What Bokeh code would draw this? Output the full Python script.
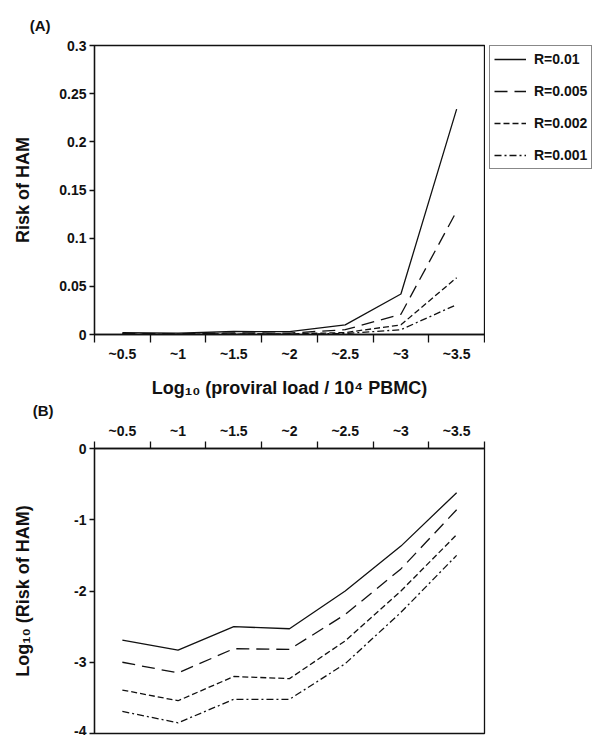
from bokeh.plotting import figure
from bokeh.models import Range1d, FixedTicker, NumeralTickFormatter, Legend, LegendItem
from bokeh.layouts import column, row
from bokeh.embed import file_html
from bokeh.resources import INLINE

# ---- data ----
categories = ["~0.5", "~1", "~1.5", "~2", "~2.5", "~3", "~3.5"]
series_labels = ["R=0.01", "R=0.005", "R=0.002", "R=0.001"]

# Panel A: risk of HAM
risk_r010 = [0.0020, 0.0015, 0.0031, 0.0030, 0.0100, 0.0420, 0.2340]
risk_r005 = [0.0010, 0.0007, 0.0016, 0.0015, 0.0050, 0.0210, 0.1280]
risk_r002 = [0.0004, 0.0003, 0.0006, 0.0006, 0.0020, 0.0100, 0.0590]
risk_r001 = [0.0002, 0.00014, 0.0003, 0.0003, 0.0010, 0.0050, 0.0310]

# Panel B: log10 risk of HAM
log_r010 = [-2.69, -2.83, -2.50, -2.53, -2.00, -1.37, -0.62]
log_r005 = [-3.00, -3.15, -2.81, -2.82, -2.33, -1.69, -0.86]
log_r002 = [-3.39, -3.54, -3.20, -3.23, -2.70, -2.00, -1.21]
log_r001 = [-3.69, -3.85, -3.52, -3.52, -3.02, -2.30, -1.50]

yticks_a = [0, 0.05, 0.1, 0.15, 0.2, 0.25, 0.3]
yticks_b = [-4, -3, -2, -1, 0]
ylabels_b = ["-4", "-3", "-2", "-1", "0"]

# ---- styling ----
FONT = "Liberation Sans"
INK = "#111111"
dashes = ["solid", "13 7", "6 3", "7 3 2 3"]
xpos = [i + 0.5 for i in range(len(categories))]
bounds = list(range(len(categories) + 1))


def style_common(p):
    p.grid.visible = False
    p.outline_line_color = INK
    p.outline_line_width = 1.3
    p.outline_line_alpha = 1.0
    p.background_fill_color = "white"
    p.border_fill_color = "white"
    for ax in p.axis:
        ax.axis_line_color = INK
        ax.axis_line_width = 1.3
        ax.major_label_text_font = FONT
        ax.major_label_text_font_style = "bold"
        ax.major_label_text_font_size = "14px"
        ax.major_label_text_color = INK
        ax.axis_label_text_font = FONT
        ax.axis_label_text_font_style = "bold"
        ax.axis_label_text_font_size = "18px"
        ax.axis_label_text_color = INK


def style_xaxis(ax, tick_len):
    ax.ticker = FixedTicker(ticks=xpos, minor_ticks=bounds)
    ax.major_label_overrides = {x: c for x, c in zip(xpos, categories)}
    ax.major_tick_line_color = None
    ax.major_tick_out = tick_len
    ax.major_tick_in = 0
    ax.minor_tick_line_color = INK
    ax.minor_tick_line_width = 1.3
    ax.minor_tick_out = tick_len
    ax.minor_tick_in = 0


def style_yaxis(ax, ticks):
    ax.ticker = FixedTicker(ticks=ticks)
    ax.major_tick_line_color = INK
    ax.major_tick_line_width = 1.3
    ax.major_tick_out = 5
    ax.major_tick_in = 0
    ax.minor_tick_line_color = None
    ax.major_label_standoff = 3


def label_strip(text, height, tick_y, standoff):
    # thin canvas whose only content is the panel letter, drawn as a tick label left of the frame
    f = figure(width=602, height=height, x_range=Range1d(0, 1), y_range=Range1d(0, height),
               x_axis_location=None, output_backend="svg", toolbar_location=None,
               min_border_left=94, min_border_right=118, min_border_top=0, min_border_bottom=0)
    f.grid.visible = False
    f.outline_line_color = None
    f.background_fill_color = "white"
    f.border_fill_color = "white"
    ax = f.yaxis[0]
    ax.ticker = FixedTicker(ticks=[tick_y])
    ax.major_label_overrides = {tick_y: text}
    ax.axis_line_color = None
    ax.major_tick_line_color = None
    ax.minor_tick_line_color = None
    ax.major_tick_out = 0
    ax.major_tick_in = 0
    ax.major_label_standoff = standoff
    ax.major_label_text_font = FONT
    ax.major_label_text_font_style = "bold"
    ax.major_label_text_font_size = "15px"
    ax.major_label_text_color = INK
    return f


# ---- strip with "(A)" ----
strip_a = label_strip("(A)", 37, 12, 44)

# ---- Panel A ----
p1 = figure(width=485, height=363, x_range=Range1d(0, 7), y_range=Range1d(0, 0.3),
            output_backend="svg", toolbar_location=None,
            min_border_left=94, min_border_right=1, min_border_top=8, min_border_bottom=65)
style_common(p1)
style_xaxis(p1.xaxis[0], 8)
p1.xaxis.major_label_standoff = 3
p1.xaxis.axis_label = "Log\u2081\u2080 (proviral load / 10\u2074 PBMC)"
p1.xaxis.axis_label_standoff = 13
style_yaxis(p1.yaxis[0], yticks_a)
p1.yaxis.formatter = NumeralTickFormatter(format="0.[00]")
p1.yaxis.axis_label = "Risk of HAM"
p1.yaxis.axis_label_standoff = 23

for vals, dash in zip([risk_r010, risk_r005, risk_r002, risk_r001], dashes):
    p1.line(xpos, vals, line_color=INK, line_width=1.3, line_dash=dash)

# ---- legend beside panel A (its own canvas; the series lie outside its visible range) ----
pleg = figure(width=117, height=363, x_range=Range1d(0, 7), y_range=Range1d(10, 11),
              x_axis_location=None, y_axis_location=None, output_backend="svg",
              toolbar_location=None, min_border_left=4, min_border_right=0,
              min_border_top=8, min_border_bottom=65)
pleg.grid.visible = False
pleg.outline_line_color = None
pleg.background_fill_color = "white"
pleg.border_fill_color = "white"
leg_renderers = []
for vals, dash in zip([risk_r010, risk_r005, risk_r002, risk_r001], dashes):
    leg_renderers.append(pleg.line(xpos, vals, line_color=INK, line_width=1.3, line_dash=dash))
legend = Legend(items=[LegendItem(label=l, renderers=[r]) for l, r in zip(series_labels, leg_renderers)],
                location="top_left", margin=0, padding=4, spacing=14,
                label_height=18, glyph_height=18, glyph_width=32, label_standoff=8,
                label_text_font=FONT, label_text_font_style="bold", label_text_font_size="14px",
                label_text_color=INK, border_line_color=INK, border_line_width=1.3,
                background_fill_color="white", background_fill_alpha=1.0)
pleg.add_layout(legend)

# ---- strip with "(B)" ----
strip_b = label_strip("(B)", 19, 9, 41)

# ---- Panel B ----
p2 = figure(width=602, height=316, x_range=Range1d(0, 7), y_range=Range1d(-4, 0),
            x_axis_location="above", output_backend="svg", toolbar_location=None,
            min_border_left=94, min_border_right=118, min_border_top=27, min_border_bottom=2)
style_common(p2)
style_xaxis(p2.xaxis[0], 7)
p2.xaxis.major_label_standoff = 3
style_yaxis(p2.yaxis[0], yticks_b)
p2.yaxis.major_label_overrides = {t: s for t, s in zip(yticks_b, ylabels_b)}
p2.yaxis.axis_label = "Log\u2081\u2080 (Risk of HAM)"
p2.yaxis.axis_label_standoff = 38

for vals, dash in zip([log_r010, log_r005, log_r002, log_r001], dashes):
    p2.line(xpos, vals, line_color=INK, line_width=1.3, line_dash=dash)

layout = column(strip_a, row(p1, pleg, spacing=0), strip_b, p2, spacing=0)
open("out.html", "w").write(file_html(layout, INLINE))
